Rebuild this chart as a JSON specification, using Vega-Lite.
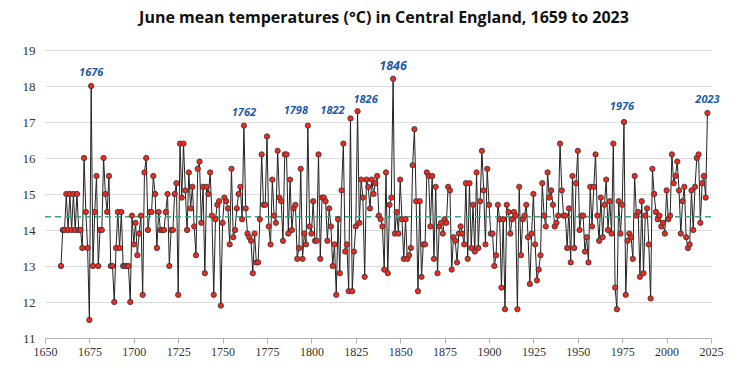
{
  "$schema": "https://vega.github.io/schema/vega-lite/v6.json",
  "width": 666,
  "height": 288,
  "autosize": {"type": "none"},
  "padding": {"left": 45, "top": 50, "right": 43, "bottom": 47},
  "background": "white",
  "title": {
    "text": "June mean temperatures (°C) in Central England, 1659 to 2023",
    "font": "Open Sans",
    "fontSize": 16,
    "fontWeight": "bold",
    "color": "#111111",
    "anchor": "middle",
    "offset": 18,
    "dx": 6
  },
  "config": {
    "view": {"stroke": null},
    "axis": {
      "labelFont": "Liberation Serif",
      "labelFontSize": 13,
      "labelColor": "#333333",
      "labelOverlap": false,
      "labelSeparation": 0
    },
    "axisY": {"labelOverlap": false, "tickCount": 9}
  },
  "datasets": {
    "june": [
      {"year":1659,"temp":13.0},{"year":1660,"temp":14.0},{"year":1661,"temp":14.0},{"year":1662,"temp":15.0},{"year":1663,"temp":14.0},{"year":1664,"temp":15.0},{"year":1665,"temp":14.0},{"year":1666,"temp":15.0},{"year":1667,"temp":14.0},{"year":1668,"temp":15.0},{"year":1669,"temp":14.0},{"year":1670,"temp":14.0},{"year":1671,"temp":13.5},{"year":1672,"temp":16.0},{"year":1673,"temp":14.5},{"year":1674,"temp":13.5},{"year":1675,"temp":11.5},{"year":1676,"temp":18.0},{"year":1677,"temp":13.0},{"year":1678,"temp":14.5},{"year":1679,"temp":15.5},{"year":1680,"temp":13.0},{"year":1681,"temp":14.0},{"year":1682,"temp":14.0},{"year":1683,"temp":16.0},{"year":1684,"temp":15.0},{"year":1685,"temp":14.5},{"year":1686,"temp":15.5},{"year":1687,"temp":13.0},{"year":1688,"temp":13.0},{"year":1689,"temp":12.0},{"year":1690,"temp":13.5},{"year":1691,"temp":14.5},{"year":1692,"temp":13.5},{"year":1693,"temp":14.5},{"year":1694,"temp":13.0},{"year":1695,"temp":13.0},{"year":1696,"temp":13.0},{"year":1697,"temp":13.0},{"year":1698,"temp":12.0},
      {"year":1699,"temp":14.4},{"year":1700,"temp":13.6},{"year":1701,"temp":14.2},{"year":1702,"temp":13.3},{"year":1703,"temp":13.9},{"year":1704,"temp":14.4},{"year":1705,"temp":12.2},{"year":1706,"temp":15.6},{"year":1707,"temp":16.0},{"year":1708,"temp":14.0},
      {"year":1709,"temp":14.5},{"year":1710,"temp":14.5},{"year":1711,"temp":15.5},{"year":1712,"temp":15.0},{"year":1713,"temp":13.5},{"year":1714,"temp":14.5},{"year":1715,"temp":14.0},{"year":1716,"temp":14.0},{"year":1717,"temp":14.0},{"year":1718,"temp":14.5},
      {"year":1719,"temp":15.0},{"year":1720,"temp":13.0},{"year":1721,"temp":14.0},{"year":1722,"temp":14.0},{"year":1723,"temp":15.0},{"year":1724,"temp":15.3},{"year":1725,"temp":12.2},{"year":1726,"temp":16.4},{"year":1727,"temp":14.9},{"year":1728,"temp":16.4},
      {"year":1729,"temp":15.1},{"year":1730,"temp":14.0},{"year":1731,"temp":15.6},{"year":1732,"temp":14.6},{"year":1733,"temp":15.2},{"year":1734,"temp":14.1},{"year":1735,"temp":13.3},{"year":1736,"temp":15.7},{"year":1737,"temp":15.9},{"year":1738,"temp":14.2},
      {"year":1739,"temp":15.2},{"year":1740,"temp":12.8},{"year":1741,"temp":15.2},{"year":1742,"temp":15.0},{"year":1743,"temp":15.6},{"year":1744,"temp":14.4},{"year":1745,"temp":12.2},{"year":1746,"temp":14.3},{"year":1747,"temp":14.7},{"year":1748,"temp":14.8},
      {"year":1749,"temp":11.9},{"year":1750,"temp":14.2},{"year":1751,"temp":14.9},{"year":1752,"temp":14.8},{"year":1753,"temp":14.6},{"year":1754,"temp":13.6},{"year":1755,"temp":15.7},{"year":1756,"temp":13.8},{"year":1757,"temp":14.0},{"year":1758,"temp":14.6},
      {"year":1759,"temp":15.0},{"year":1760,"temp":15.2},{"year":1761,"temp":14.3},{"year":1762,"temp":16.9},
      {"year":1763,"temp":14.6},{"year":1764,"temp":13.9},{"year":1765,"temp":13.8},{"year":1766,"temp":13.7},{"year":1767,"temp":12.8},{"year":1768,"temp":13.9},{"year":1769,"temp":13.1},{"year":1770,"temp":13.1},
      {"year":1771,"temp":14.3},{"year":1772,"temp":16.1},{"year":1773,"temp":14.7},{"year":1774,"temp":14.7},{"year":1775,"temp":16.6},{"year":1776,"temp":14.1},{"year":1777,"temp":13.6},{"year":1778,"temp":15.4},{"year":1779,"temp":14.4},{"year":1780,"temp":14.2},
      {"year":1781,"temp":16.2},{"year":1782,"temp":14.9},{"year":1783,"temp":14.8},{"year":1784,"temp":13.7},{"year":1785,"temp":16.1},{"year":1786,"temp":16.1},{"year":1787,"temp":13.9},{"year":1788,"temp":15.4},{"year":1789,"temp":14.0},{"year":1790,"temp":14.6},
      {"year":1791,"temp":14.7},{"year":1792,"temp":13.2},{"year":1793,"temp":13.5},{"year":1794,"temp":15.7},{"year":1795,"temp":13.2},{"year":1796,"temp":13.9},{"year":1797,"temp":13.6},{"year":1798,"temp":16.9},
      {"year":1799,"temp":14.1},{"year":1800,"temp":13.9},{"year":1801,"temp":14.8},{"year":1802,"temp":13.7},{"year":1803,"temp":13.7},{"year":1804,"temp":16.1},{"year":1805,"temp":13.2},{"year":1806,"temp":14.9},{"year":1807,"temp":14.9},{"year":1808,"temp":14.8},
      {"year":1809,"temp":13.7},{"year":1810,"temp":14.6},{"year":1811,"temp":14.1},{"year":1812,"temp":13.0},{"year":1813,"temp":13.6},{"year":1814,"temp":12.2},{"year":1815,"temp":14.3},{"year":1816,"temp":12.8},{"year":1817,"temp":15.1},{"year":1818,"temp":16.4},
      {"year":1819,"temp":13.4},{"year":1820,"temp":13.6},{"year":1821,"temp":12.3},{"year":1822,"temp":17.1},{"year":1823,"temp":12.3},{"year":1824,"temp":13.4},{"year":1825,"temp":14.1},{"year":1826,"temp":17.3},
      {"year":1827,"temp":14.2},{"year":1828,"temp":15.4},{"year":1829,"temp":14.9},{"year":1830,"temp":12.7},{"year":1831,"temp":15.4},{"year":1832,"temp":15.2},{"year":1833,"temp":14.6},{"year":1834,"temp":15.4},{"year":1835,"temp":15.0},{"year":1836,"temp":15.3},
      {"year":1837,"temp":15.5},{"year":1838,"temp":14.4},{"year":1839,"temp":14.3},{"year":1840,"temp":14.1},{"year":1841,"temp":12.9},{"year":1842,"temp":15.6},{"year":1843,"temp":12.8},{"year":1844,"temp":14.7},{"year":1845,"temp":14.9},{"year":1846,"temp":18.2},
      {"year":1847,"temp":13.9},{"year":1848,"temp":14.5},{"year":1849,"temp":13.9},{"year":1850,"temp":15.4},{"year":1851,"temp":14.3},{"year":1852,"temp":13.2},{"year":1853,"temp":14.3},{"year":1854,"temp":13.2},{"year":1855,"temp":13.3},{"year":1856,"temp":13.5},
      {"year":1857,"temp":15.8},{"year":1858,"temp":16.8},{"year":1859,"temp":14.8},{"year":1860,"temp":12.3},{"year":1861,"temp":14.8},{"year":1862,"temp":12.7},{"year":1863,"temp":13.6},{"year":1864,"temp":13.6},{"year":1865,"temp":15.6},{"year":1866,"temp":15.5},
      {"year":1867,"temp":14.1},{"year":1868,"temp":15.5},{"year":1869,"temp":13.2},{"year":1870,"temp":15.2},{"year":1871,"temp":12.8},{"year":1872,"temp":14.1},{"year":1873,"temp":14.2},{"year":1874,"temp":13.9},{"year":1875,"temp":14.3},{"year":1876,"temp":14.2},
      {"year":1877,"temp":15.2},{"year":1878,"temp":15.1},{"year":1879,"temp":12.9},{"year":1880,"temp":13.8},{"year":1881,"temp":13.7},{"year":1882,"temp":13.1},{"year":1883,"temp":13.9},{"year":1884,"temp":14.1},{"year":1885,"temp":13.9},{"year":1886,"temp":13.6},
      {"year":1887,"temp":15.3},{"year":1888,"temp":13.2},{"year":1889,"temp":15.3},{"year":1890,"temp":13.5},{"year":1891,"temp":14.7},{"year":1892,"temp":13.4},{"year":1893,"temp":15.6},{"year":1894,"temp":13.5},{"year":1895,"temp":14.8},{"year":1896,"temp":16.2},
      {"year":1897,"temp":15.1},{"year":1898,"temp":13.6},{"year":1899,"temp":15.7},{"year":1900,"temp":14.7},{"year":1901,"temp":13.9},{"year":1902,"temp":13.9},{"year":1903,"temp":13.0},{"year":1904,"temp":13.3},{"year":1905,"temp":14.7},{"year":1906,"temp":14.3},
      {"year":1907,"temp":12.4},{"year":1908,"temp":14.3},{"year":1909,"temp":11.8},{"year":1910,"temp":14.7},{"year":1911,"temp":14.5},{"year":1912,"temp":13.9},{"year":1913,"temp":14.3},{"year":1914,"temp":14.5},{"year":1915,"temp":14.4},{"year":1916,"temp":11.8},
      {"year":1917,"temp":15.2},{"year":1918,"temp":13.3},{"year":1919,"temp":14.3},{"year":1920,"temp":14.4},{"year":1921,"temp":14.7},{"year":1922,"temp":13.8},{"year":1923,"temp":12.5},{"year":1924,"temp":13.9},{"year":1925,"temp":15.0},{"year":1926,"temp":13.6},
      {"year":1927,"temp":12.6},{"year":1928,"temp":12.9},{"year":1929,"temp":13.3},{"year":1930,"temp":15.3},{"year":1931,"temp":14.4},{"year":1932,"temp":14.1},{"year":1933,"temp":15.6},{"year":1934,"temp":14.9},{"year":1935,"temp":15.1},{"year":1936,"temp":14.7},
      {"year":1937,"temp":14.1},{"year":1938,"temp":14.2},{"year":1939,"temp":14.4},{"year":1940,"temp":16.4},{"year":1941,"temp":15.1},{"year":1942,"temp":14.4},{"year":1943,"temp":14.4},{"year":1944,"temp":13.5},{"year":1945,"temp":14.6},{"year":1946,"temp":13.1},
      {"year":1947,"temp":15.5},{"year":1948,"temp":13.5},{"year":1949,"temp":15.3},{"year":1950,"temp":16.2},{"year":1951,"temp":14.0},{"year":1952,"temp":14.4},{"year":1953,"temp":14.4},{"year":1954,"temp":13.4},{"year":1955,"temp":13.8},{"year":1956,"temp":13.1},
      {"year":1957,"temp":15.2},{"year":1958,"temp":14.1},{"year":1959,"temp":15.2},{"year":1960,"temp":16.1},{"year":1961,"temp":14.4},{"year":1962,"temp":13.7},{"year":1963,"temp":14.9},{"year":1964,"temp":13.8},{"year":1965,"temp":14.7},{"year":1966,"temp":15.4},
      {"year":1967,"temp":14.0},{"year":1968,"temp":14.8},{"year":1969,"temp":13.9},{"year":1970,"temp":16.4},{"year":1971,"temp":12.4},{"year":1972,"temp":11.8},{"year":1973,"temp":14.8},{"year":1974,"temp":13.9},{"year":1975,"temp":14.7},{"year":1976,"temp":17.0},
      {"year":1977,"temp":12.2},{"year":1978,"temp":13.7},{"year":1979,"temp":13.9},{"year":1980,"temp":13.8},{"year":1981,"temp":13.2},{"year":1982,"temp":15.5},{"year":1983,"temp":14.4},{"year":1984,"temp":14.5},{"year":1985,"temp":12.7},{"year":1986,"temp":14.8},
      {"year":1987,"temp":12.8},{"year":1988,"temp":14.4},{"year":1989,"temp":14.6},{"year":1990,"temp":13.6},{"year":1991,"temp":12.1},{"year":1992,"temp":15.7},{"year":1993,"temp":15.0},{"year":1994,"temp":14.5},{"year":1995,"temp":14.3},{"year":1996,"temp":14.4},
      {"year":1997,"temp":14.1},{"year":1998,"temp":14.2},{"year":1999,"temp":13.9},{"year":2000,"temp":15.1},{"year":2001,"temp":14.3},{"year":2002,"temp":14.4},{"year":2003,"temp":16.1},{"year":2004,"temp":15.3},{"year":2005,"temp":15.5},{"year":2006,"temp":15.9},
      {"year":2007,"temp":15.1},{"year":2008,"temp":13.9},{"year":2009,"temp":14.8},{"year":2010,"temp":15.2},{"year":2011,"temp":13.8},{"year":2012,"temp":13.5},{"year":2013,"temp":13.6},{"year":2014,"temp":15.1},{"year":2015,"temp":14.0},{"year":2016,"temp":15.2},
      {"year":2017,"temp":16.0},{"year":2018,"temp":16.1},{"year":2019,"temp":14.2},{"year":2020,"temp":15.3},{"year":2021,"temp":15.5},{"year":2022,"temp":14.9},{"year":2023,"temp":17.25}
    ],
    "labels": [
      {"year":1676,"temp":18.0,"label":"1676"},
      {"year":1762,"temp":16.9,"label":"1762"},
      {"year":1798,"temp":16.9,"label":"1798"},
      {"year":1822,"temp":17.1,"label":"1822"},
      {"year":1826,"temp":17.3,"label":"1826"},
      {"year":1846,"temp":18.2,"label":"1846"},
      {"year":1976,"temp":17.0,"label":"1976"},
      {"year":2023,"temp":17.25,"label":"2023"}
    ],
    "mean": [{"temp": 14.37}]
  },
  "encoding": {
    "y": {
      "field": "temp", "type": "quantitative",
      "scale": {"domain": [11, 19], "nice": false, "zero": false},
      "axis": {
        "values": [11,12,13,14,15,16,17,18,19],
        "format": "d",
        "grid": true, "gridColor": "#dcdcdc", "domain": false, "ticks": false,
        "labelPadding": 10, "title": null, "labelOverlap": false, "labelFlush": false
      }
    }
  },
  "layer": [
    {
      "data": {"name": "june"},
      "mark": {"type": "line", "color": "#222222", "strokeWidth": 1},
      "encoding": {
        "x": {
          "field": "year", "type": "quantitative",
          "scale": {"domain": [1650, 2025], "nice": false, "zero": false},
          "axis": {
            "values": [1650,1675,1700,1725,1750,1775,1800,1825,1850,1875,1900,1925,1950,1975,2000,2025],
            "format": "d", "grid": false, "domain": true, "domainColor": "#b5b5b5",
            "ticks": true, "tickColor": "#b5b5b5", "tickSize": 5, "labelPadding": 3, "title": null,
            "labelFlush": false, "labelOverlap": false, "labelFontSize": 12
          }
        }
      }
    },
    {
      "data": {"name": "mean"},
      "mark": {"type": "rule", "color": "#3aa584", "strokeWidth": 1.5, "strokeDash": [6, 4]},
      "encoding": {}
    },
    {
      "data": {"name": "june"},
      "mark": {"type": "point", "filled": true, "fill": "#f5281e", "stroke": "#3a3a3a", "strokeWidth": 0.9, "size": 28, "opacity": 1},
      "encoding": {
        "x": {"field": "year", "type": "quantitative"}
      }
    },
    {
      "data": {"name": "labels"},
      "transform": [{"filter": "datum.year == 1676 || datum.year == 1762 || datum.year == 2023"}],
      "mark": {"type": "text", "font": "Open Sans", "fontSize": 11, "fontWeight": "bold", "fontStyle": "italic", "color": "#1f5aa6", "baseline": "middle", "dy": -13},
      "encoding": {
        "x": {"field": "year", "type": "quantitative"},
        "text": {"field": "label"}
      }
    },
    {
      "data": {"name": "labels"},
      "transform": [{"filter": "datum.year == 1976"}],
      "mark": {"type": "text", "font": "Open Sans", "fontSize": 11, "fontWeight": "bold", "fontStyle": "italic", "color": "#1f5aa6", "baseline": "middle", "dx": -2, "dy": -15},
      "encoding": {
        "x": {"field": "year", "type": "quantitative"},
        "text": {"field": "label"}
      }
    },
    {
      "data": {"name": "labels"},
      "transform": [{"filter": "datum.year == 1846"}],
      "mark": {"type": "text", "font": "Open Sans", "fontSize": 12.5, "fontWeight": "bold", "fontStyle": "italic", "color": "#1f5aa6", "baseline": "middle", "dy": -13},
      "encoding": {
        "x": {"field": "year", "type": "quantitative"},
        "text": {"field": "label"}
      }
    },
    {
      "data": {"name": "labels"},
      "transform": [{"filter": "datum.year == 1798"}],
      "mark": {"type": "text", "font": "Open Sans", "fontSize": 11, "fontWeight": "bold", "fontStyle": "italic", "color": "#1f5aa6", "baseline": "middle", "dx": -12, "dy": -15},
      "encoding": {
        "x": {"field": "year", "type": "quantitative"},
        "text": {"field": "label"}
      }
    },
    {
      "data": {"name": "labels"},
      "transform": [{"filter": "datum.year == 1822"}],
      "mark": {"type": "text", "font": "Open Sans", "fontSize": 11, "fontWeight": "bold", "fontStyle": "italic", "color": "#1f5aa6", "baseline": "middle", "dx": -18, "dy": -7},
      "encoding": {
        "x": {"field": "year", "type": "quantitative"},
        "text": {"field": "label"}
      }
    },
    {
      "data": {"name": "labels"},
      "transform": [{"filter": "datum.year == 1826"}],
      "mark": {"type": "text", "font": "Open Sans", "fontSize": 11, "fontWeight": "bold", "fontStyle": "italic", "color": "#1f5aa6", "baseline": "middle", "dx": 8, "dy": -11},
      "encoding": {
        "x": {"field": "year", "type": "quantitative"},
        "text": {"field": "label"}
      }
    }
  ]
}
